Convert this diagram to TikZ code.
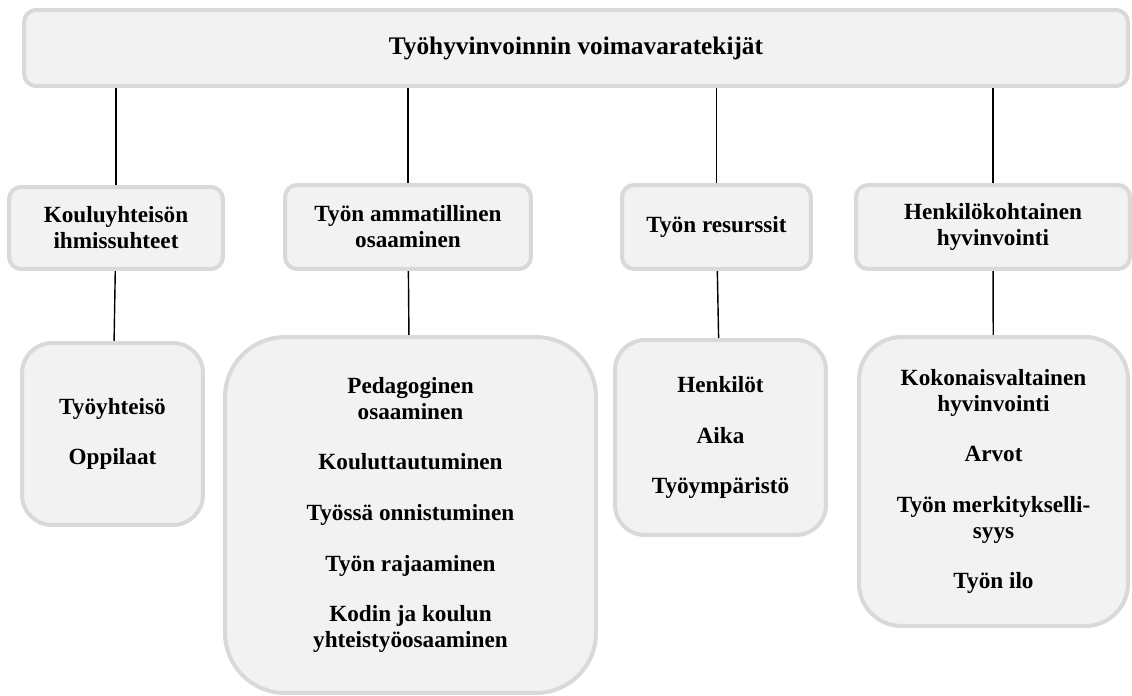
\documentclass[tikz,border=0pt]{standalone}
\usepackage{fontspec}
\setmainfont{Liberation Serif}
\usetikzlibrary{backgrounds}
\definecolor{boxfill}{HTML}{F2F2F2}
\definecolor{boxline}{HTML}{D9D9D9}
\begin{document}
\begin{tikzpicture}[x=0.02cm, y=-0.02cm,
    every node/.style={font=\fontsize{13.2}{14.8}\selectfont\bfseries, align=center},
    box/.style={draw=boxline, fill=boxfill, line width=4pt*0.57, inner sep=0pt},
    topbox/.style={box, rounded corners=0.24cm, minimum height=1.52cm},
    midbox/.style={box, rounded corners=0.24cm, minimum height=1.68cm},
    lowbox/.style={box, rounded corners=0.6cm},
    link/.style={line width=0.8pt}]
    \useasboundingbox (0,0) rectangle (1132,696);
    \node [topbox, minimum width=22.08cm, font=\fontsize{14.4}{16}\selectfont\bfseries] (T) at (576,48) {Työhyvinvoinnin voimavaratekijät};
    \node [midbox, minimum width=4.28cm, minimum height=1.64cm] (M1) at (116,228) {Kouluyhteisön\\ihmissuhteet};
    \node [midbox, minimum width=4.92cm] (M2) at (408,227) {Työn ammatillinen\\osaaminen};
    \node [midbox, minimum width=3.78cm] (M3) at (716.5,227) {Työn resurssit};
    \node [midbox, minimum width=5.48cm] (M4) at (993,227) {Henkilökohtainen\\hyvinvointi};
    \node [lowbox, minimum width=3.62cm, minimum height=3.64cm] (L1) at (112.5,434) {Työyhteisö\\[14pt]Oppilaat};
    \node [lowbox, rounded corners=1.2cm, minimum width=7.42cm, minimum height=7.12cm] (L2) at (410.5,515)
        {Pedagoginen\\osaaminen\\[14pt]Kouluttautuminen\\[14pt]Työssä onnistuminen\\[14pt]Työn rajaaminen\\[14pt]Kodin ja koulun\\yhteistyöosaaminen};
    \node [lowbox, minimum width=4.22cm, minimum height=3.90cm] (L3) at (720.5,437.5) {Henkilöt\\[14pt]Aika\\[14pt]Työympäristö};
    \node [lowbox, rounded corners=0.85cm, minimum width=5.38cm, minimum height=5.78cm] (L4) at (993.5,481.5)
        {Kokonaisvaltainen\\hyvinvointi\\[14pt]Arvot\\[14pt]Työn merkitykselli-\\syys\\[14pt]Työn ilo};
    \begin{scope}[on background layer]
    \foreach \m in {M1,M2,M3,M4}
        \draw [link] (\m.north |- T.south) -- (\m.north);
    \draw [link] (M1) -- (L1);
    \draw [link] (M2) -- (L2);
    \draw [link] (M3) -- (L3);
    \draw [link] (M4) -- (L4);
    \end{scope}
\end{tikzpicture}
\end{document}
